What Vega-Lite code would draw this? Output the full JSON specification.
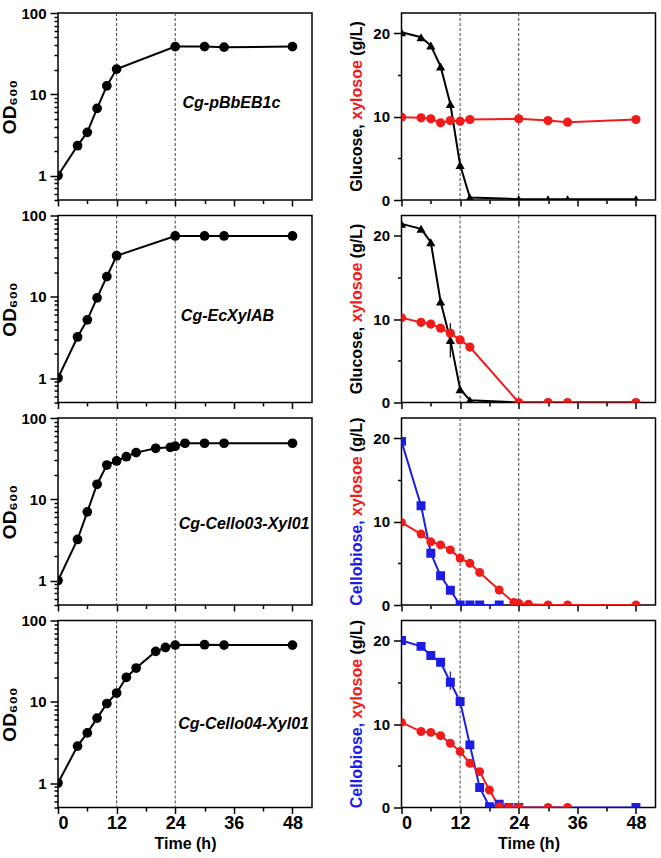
{
  "$schema": "https://vega.github.io/schema/vega-lite/v6.json",
  "padding": {"left": 0, "top": 5, "right": 5, "bottom": 5},
  "background": "white",
  "columns": 2,
  "spacing": {"row": 15.5, "column": 89.5},
  "bounds": "flush",
  "datasets": {
    "vlines": [{"t": 12}, {"t": 24}],
    "od": [
      {"strain": "pBbEB1c", "t": 0, "od": 1}, {"strain": "pBbEB1c", "t": 4, "od": 2.33}, {"strain": "pBbEB1c", "t": 6, "od": 3.4}, {"strain": "pBbEB1c", "t": 8, "od": 6.7}, {"strain": "pBbEB1c", "t": 10, "od": 12.7}, {"strain": "pBbEB1c", "t": 12, "od": 20.4}, {"strain": "pBbEB1c", "t": 24, "od": 38.6}, {"strain": "pBbEB1c", "t": 30, "od": 38.6}, {"strain": "pBbEB1c", "t": 34, "od": 38}, {"strain": "pBbEB1c", "t": 48, "od": 38.6},
      {"strain": "EcXylAB", "t": 0, "od": 1}, {"strain": "EcXylAB", "t": 4, "od": 3.2}, {"strain": "EcXylAB", "t": 6, "od": 5.2}, {"strain": "EcXylAB", "t": 8, "od": 9.7}, {"strain": "EcXylAB", "t": 10, "od": 17.7}, {"strain": "EcXylAB", "t": 12, "od": 32}, {"strain": "EcXylAB", "t": 24, "od": 56}, {"strain": "EcXylAB", "t": 30, "od": 56}, {"strain": "EcXylAB", "t": 34, "od": 56}, {"strain": "EcXylAB", "t": 48, "od": 56},
      {"strain": "Cello03", "t": 0, "od": 1}, {"strain": "Cello03", "t": 4, "od": 3.2}, {"strain": "Cello03", "t": 6, "od": 7.0}, {"strain": "Cello03", "t": 8, "od": 15.3}, {"strain": "Cello03", "t": 10, "od": 26.4}, {"strain": "Cello03", "t": 12, "od": 29.6}, {"strain": "Cello03", "t": 14, "od": 33.4}, {"strain": "Cello03", "t": 16, "od": 37.5}, {"strain": "Cello03", "t": 20, "od": 42.4}, {"strain": "Cello03", "t": 23, "od": 43.6}, {"strain": "Cello03", "t": 24, "od": 45}, {"strain": "Cello03", "t": 26, "od": 48.9}, {"strain": "Cello03", "t": 30, "od": 48.9}, {"strain": "Cello03", "t": 34, "od": 48.9}, {"strain": "Cello03", "t": 48, "od": 48.9},
      {"strain": "Cello04", "t": 0, "od": 1}, {"strain": "Cello04", "t": 4, "od": 2.85}, {"strain": "Cello04", "t": 6, "od": 4.14}, {"strain": "Cello04", "t": 8, "od": 6.3}, {"strain": "Cello04", "t": 10, "od": 9.5}, {"strain": "Cello04", "t": 12, "od": 12.8}, {"strain": "Cello04", "t": 14, "od": 20}, {"strain": "Cello04", "t": 16, "od": 26}, {"strain": "Cello04", "t": 20, "od": 41.7}, {"strain": "Cello04", "t": 22, "od": 46.6}, {"strain": "Cello04", "t": 24, "od": 49.8}, {"strain": "Cello04", "t": 30, "od": 50.4}, {"strain": "Cello04", "t": 34, "od": 49.8}, {"strain": "Cello04", "t": 48, "od": 49.8}
    ],
    "sugar": [
      {"p": 1, "s": "glucose", "t": 0, "c": 20.1}, {"p": 1, "s": "glucose", "t": 4, "c": 19.5}, {"p": 1, "s": "glucose", "t": 6, "c": 18.5}, {"p": 1, "s": "glucose", "t": 8, "c": 16.0}, {"p": 1, "s": "glucose", "t": 10, "c": 11.5}, {"p": 1, "s": "glucose", "t": 12, "c": 4.2}, {"p": 1, "s": "glucose", "t": 14, "c": 0.3}, {"p": 1, "s": "glucose", "t": 24, "c": 0.1}, {"p": 1, "s": "glucose", "t": 30, "c": 0.1}, {"p": 1, "s": "glucose", "t": 34, "c": 0.1}, {"p": 1, "s": "glucose", "t": 48, "c": 0.1},
      {"p": 1, "s": "xylose", "t": 0, "c": 9.92}, {"p": 1, "s": "xylose", "t": 4, "c": 9.84}, {"p": 1, "s": "xylose", "t": 6, "c": 9.72}, {"p": 1, "s": "xylose", "t": 8, "c": 9.24}, {"p": 1, "s": "xylose", "t": 10, "c": 9.52}, {"p": 1, "s": "xylose", "t": 12, "c": 9.44}, {"p": 1, "s": "xylose", "t": 14, "c": 9.64}, {"p": 1, "s": "xylose", "t": 24, "c": 9.72}, {"p": 1, "s": "xylose", "t": 30, "c": 9.52}, {"p": 1, "s": "xylose", "t": 34, "c": 9.32}, {"p": 1, "s": "xylose", "t": 48, "c": 9.64},
      {"p": 2, "s": "glucose", "t": 0, "c": 21.4}, {"p": 2, "s": "glucose", "t": 4, "c": 20.8}, {"p": 2, "s": "glucose", "t": 6, "c": 19.2}, {"p": 2, "s": "glucose", "t": 8, "c": 12.1}, {"p": 2, "s": "glucose", "t": 10, "c": 7.5}, {"p": 2, "s": "glucose", "t": 12, "c": 1.6}, {"p": 2, "s": "glucose", "t": 14, "c": 0.28}, {"p": 2, "s": "glucose", "t": 24, "c": 0}, {"p": 2, "s": "glucose", "t": 30, "c": 0}, {"p": 2, "s": "glucose", "t": 34, "c": 0}, {"p": 2, "s": "glucose", "t": 48, "c": 0},
      {"p": 2, "s": "xylose", "t": 0, "c": 10.14}, {"p": 2, "s": "xylose", "t": 4, "c": 9.6}, {"p": 2, "s": "xylose", "t": 6, "c": 9.4}, {"p": 2, "s": "xylose", "t": 8, "c": 8.9}, {"p": 2, "s": "xylose", "t": 10, "c": 8.3}, {"p": 2, "s": "xylose", "t": 12, "c": 7.5}, {"p": 2, "s": "xylose", "t": 14, "c": 6.64}, {"p": 2, "s": "xylose", "t": 24, "c": 0}, {"p": 2, "s": "xylose", "t": 30, "c": 0}, {"p": 2, "s": "xylose", "t": 34, "c": 0}, {"p": 2, "s": "xylose", "t": 48, "c": 0},
      {"p": 3, "s": "cellobiose", "t": 0, "c": 19.6}, {"p": 3, "s": "cellobiose", "t": 4, "c": 11.9}, {"p": 3, "s": "cellobiose", "t": 6, "c": 6.2}, {"p": 3, "s": "cellobiose", "t": 8, "c": 3.5}, {"p": 3, "s": "cellobiose", "t": 10, "c": 1.77}, {"p": 3, "s": "cellobiose", "t": 12, "c": 0}, {"p": 3, "s": "cellobiose", "t": 14, "c": 0}, {"p": 3, "s": "cellobiose", "t": 16, "c": 0}, {"p": 3, "s": "cellobiose", "t": 20, "c": 0},
      {"p": 3, "s": "xylose", "t": 0, "c": 9.9}, {"p": 3, "s": "xylose", "t": 4, "c": 8.5}, {"p": 3, "s": "xylose", "t": 6, "c": 7.57}, {"p": 3, "s": "xylose", "t": 8, "c": 7.2}, {"p": 3, "s": "xylose", "t": 10, "c": 6.6}, {"p": 3, "s": "xylose", "t": 12, "c": 5.6}, {"p": 3, "s": "xylose", "t": 14, "c": 5.0}, {"p": 3, "s": "xylose", "t": 16, "c": 3.9}, {"p": 3, "s": "xylose", "t": 20, "c": 1.8}, {"p": 3, "s": "xylose", "t": 23, "c": 0.3}, {"p": 3, "s": "xylose", "t": 24, "c": 0.2}, {"p": 3, "s": "xylose", "t": 26, "c": 0.1}, {"p": 3, "s": "xylose", "t": 30, "c": 0}, {"p": 3, "s": "xylose", "t": 34, "c": 0}, {"p": 3, "s": "xylose", "t": 48, "c": 0},
      {"p": 4, "s": "cellobiose", "t": 0, "c": 20.0}, {"p": 4, "s": "cellobiose", "t": 4, "c": 19.3}, {"p": 4, "s": "cellobiose", "t": 6, "c": 18.2}, {"p": 4, "s": "cellobiose", "t": 8, "c": 17.4}, {"p": 4, "s": "cellobiose", "t": 10, "c": 15.0}, {"p": 4, "s": "cellobiose", "t": 12, "c": 12.7}, {"p": 4, "s": "cellobiose", "t": 14, "c": 7.5}, {"p": 4, "s": "cellobiose", "t": 16, "c": 2.4}, {"p": 4, "s": "cellobiose", "t": 18, "c": 0.1}, {"p": 4, "s": "cellobiose", "t": 20, "c": 0.4}, {"p": 4, "s": "cellobiose", "t": 22, "c": 0}, {"p": 4, "s": "cellobiose", "t": 24, "c": 0}, {"p": 4, "s": "cellobiose", "t": 48, "c": 0},
      {"p": 4, "s": "xylose", "t": 0, "c": 10.2}, {"p": 4, "s": "xylose", "t": 4, "c": 9.1}, {"p": 4, "s": "xylose", "t": 6, "c": 9.0}, {"p": 4, "s": "xylose", "t": 8, "c": 8.6}, {"p": 4, "s": "xylose", "t": 10, "c": 7.7}, {"p": 4, "s": "xylose", "t": 12, "c": 6.7}, {"p": 4, "s": "xylose", "t": 14, "c": 5.3}, {"p": 4, "s": "xylose", "t": 16, "c": 4.3}, {"p": 4, "s": "xylose", "t": 18, "c": 2.1}, {"p": 4, "s": "xylose", "t": 20, "c": 0.1}, {"p": 4, "s": "xylose", "t": 22, "c": 0}, {"p": 4, "s": "xylose", "t": 24, "c": 0}, {"p": 4, "s": "xylose", "t": 30, "c": 0}, {"p": 4, "s": "xylose", "t": 34, "c": 0}
    ],
    "err": [
      {"p": 2, "s": "glucose", "t": 10, "lo": 5.4, "hi": 9.5},
      {"p": 4, "s": "cellobiose", "t": 10, "lo": 14.1, "hi": 16.3}
    ]
  },
  "concat": [
    {
      "width": 254, "height": 187,
      "layer": [
        {"data": {"name": "vlines"}, "mark": {"type": "rule", "color": "#444", "strokeDash": [3, 2], "strokeWidth": 1},
         "encoding": {"x": {"field": "t", "type": "quantitative", "scale": {"domain": [0, 52], "nice": false}, "axis": {"orient": "bottom", "values": [6, 18, 30, 42], "labels": false, "tickSize": 3.5, "title": null}}}},
        {"data": {"name": "od"}, "transform": [{"filter": "datum.strain === 'pBbEB1c'"}],
         "mark": {"type": "line", "color": "black", "strokeWidth": 2, "clip": true},
         "encoding": {"x": {"field": "t", "type": "quantitative", "scale": {"domain": [0, 52], "nice": false}, "axis": {"orient": "bottom", "values": [0, 12, 24, 36, 48], "labels": false, "tickSize": 6, "title": null}},
                      "y": {"field": "od", "type": "quantitative", "scale": {"type": "log", "domain": [0.5, 100], "nice": false}, "axis": {"orient": "left", "values": [1, 10, 100], "format": "d", "tickSize": 8, "labelPadding": 4, "title": "OD₆₀₀", "titlePadding": 1}}}},
        {"data": {"name": "od"}, "transform": [{"filter": "datum.strain === 'pBbEB1c'"}],
         "mark": {"type": "point", "shape": "circle", "filled": true, "opacity": 1, "size": 95, "color": "black", "clip": true},
         "encoding": {"x": {"field": "t", "type": "quantitative", "scale": {"domain": [0, 52], "nice": false}, "axis": null},
                      "y": {"field": "od", "type": "quantitative", "scale": {"type": "log", "domain": [0.5, 100], "nice": false}, "axis": {"orient": "left", "values": [0.5, 0.6, 0.7, 0.8, 0.9, 2, 3, 4, 5, 6, 7, 8, 9, 20, 30, 40, 50, 60, 70, 80, 90], "labels": false, "tickSize": 4, "title": null}}}},
        {"data": {"values": [{}]}, "mark": {"type": "text", "text": "Cg-pBbEB1c", "fontSize": 16, "fontWeight": "bold", "fontStyle": "italic", "align": "center", "baseline": "middle", "color": "black"},
         "encoding": {"x": {"datum": 35.5, "type": "quantitative", "axis": null}, "y": {"datum": 7.9, "type": "quantitative", "axis": null}}}
      ],
      "resolve": {"axis": {"x": "independent", "y": "independent"}}
    },
    {
      "width": 254, "height": 187,
      "layer": [
        {"data": {"name": "vlines"}, "mark": {"type": "rule", "color": "#444", "strokeDash": [3, 2], "strokeWidth": 1},
         "encoding": {"x": {"field": "t", "type": "quantitative", "scale": {"domain": [0, 52], "nice": false}, "axis": {"orient": "bottom", "values": [6, 18, 30, 42], "labels": false, "tickSize": 3.5, "title": null}}}},
        {"data": {"name": "sugar"}, "transform": [{"filter": "datum.p === 1"}],
         "mark": {"type": "line", "strokeWidth": 2, "clip": true},
         "encoding": {"x": {"field": "t", "type": "quantitative", "scale": {"domain": [0, 52], "nice": false}, "axis": {"orient": "bottom", "values": [0, 12, 24, 36, 48], "labels": false, "tickSize": 6, "title": null}},
                      "y": {"field": "c", "type": "quantitative", "scale": {"domain": [0, 22.4], "nice": false}, "axis": {"orient": "left", "values": [0, 10, 20], "tickSize": 8, "labelPadding": 4, "title": null}},
                      "color": {"field": "s", "type": "nominal", "scale": {"domain": ["glucose", "xylose", "cellobiose"], "range": ["#000000", "#f01c1c", "#1c1ce6"]}, "legend": null}}},
        {"data": {"name": "sugar"}, "transform": [{"filter": "datum.p === 1"}],
         "mark": {"type": "point", "filled": true, "opacity": 1, "size": 85, "clip": true},
         "encoding": {"x": {"field": "t", "type": "quantitative", "scale": {"domain": [0, 52], "nice": false}, "axis": null},
                      "y": {"field": "c", "type": "quantitative", "scale": {"domain": [0, 22.4], "nice": false}, "axis": {"orient": "left", "values": [5, 15], "labels": false, "tickSize": 4, "title": null}},
                      "color": {"field": "s", "type": "nominal", "scale": {"domain": ["glucose", "xylose", "cellobiose"], "range": ["#000000", "#f01c1c", "#1c1ce6"]}, "legend": null},
                      "shape": {"field": "s", "type": "nominal", "scale": {"domain": ["glucose", "xylose", "cellobiose"], "range": ["triangle-up", "circle", "square"]}, "legend": null}}},
        {"data": {"values": [{}]}, "mark": {"type": "text", "text": "Glucose,", "angle": 270, "fontSize": 16, "fontWeight": "bold", "align": "right", "baseline": "middle", "color": "black"},
         "encoding": {"x": {"datum": -9.2, "type": "quantitative", "axis": null}, "y": {"datum": 9.08, "type": "quantitative", "axis": null}}},
        {"data": {"values": [{}]}, "mark": {"type": "text", "text": "xylosoe", "angle": 270, "fontSize": 16, "fontWeight": "bold", "align": "center", "baseline": "middle", "color": "#f01c1c"},
         "encoding": {"x": {"datum": -9.2, "type": "quantitative", "axis": null}, "y": {"datum": 13.18, "type": "quantitative", "axis": null}}},
        {"data": {"values": [{}]}, "mark": {"type": "text", "text": "(g/L)", "angle": 270, "fontSize": 16, "fontWeight": "bold", "align": "left", "baseline": "middle", "color": "black"},
         "encoding": {"x": {"datum": -9.2, "type": "quantitative", "axis": null}, "y": {"datum": 17.27, "type": "quantitative", "axis": null}}}
      ],
      "resolve": {"axis": {"x": "independent", "y": "independent"}}
    },
    {
      "width": 254, "height": 187,
      "layer": [
        {"data": {"name": "vlines"}, "mark": {"type": "rule", "color": "#444", "strokeDash": [3, 2], "strokeWidth": 1},
         "encoding": {"x": {"field": "t", "type": "quantitative", "scale": {"domain": [0, 52], "nice": false}, "axis": {"orient": "bottom", "values": [6, 18, 30, 42], "labels": false, "tickSize": 3.5, "title": null}}}},
        {"data": {"name": "od"}, "transform": [{"filter": "datum.strain === 'EcXylAB'"}],
         "mark": {"type": "line", "color": "black", "strokeWidth": 2, "clip": true},
         "encoding": {"x": {"field": "t", "type": "quantitative", "scale": {"domain": [0, 52], "nice": false}, "axis": {"orient": "bottom", "values": [0, 12, 24, 36, 48], "labels": false, "tickSize": 6, "title": null}},
                      "y": {"field": "od", "type": "quantitative", "scale": {"type": "log", "domain": [0.5, 100], "nice": false}, "axis": {"orient": "left", "values": [1, 10, 100], "format": "d", "tickSize": 8, "labelPadding": 4, "title": "OD₆₀₀", "titlePadding": 1}}}},
        {"data": {"name": "od"}, "transform": [{"filter": "datum.strain === 'EcXylAB'"}],
         "mark": {"type": "point", "shape": "circle", "filled": true, "opacity": 1, "size": 95, "color": "black", "clip": true},
         "encoding": {"x": {"field": "t", "type": "quantitative", "scale": {"domain": [0, 52], "nice": false}, "axis": null},
                      "y": {"field": "od", "type": "quantitative", "scale": {"type": "log", "domain": [0.5, 100], "nice": false}, "axis": {"orient": "left", "values": [0.5, 0.6, 0.7, 0.8, 0.9, 2, 3, 4, 5, 6, 7, 8, 9, 20, 30, 40, 50, 60, 70, 80, 90], "labels": false, "tickSize": 4, "title": null}}}},
        {"data": {"values": [{}]}, "mark": {"type": "text", "text": "Cg-EcXylAB", "fontSize": 16, "fontWeight": "bold", "fontStyle": "italic", "align": "center", "baseline": "middle", "color": "black"},
         "encoding": {"x": {"datum": 34.7, "type": "quantitative", "axis": null}, "y": {"datum": 5.8, "type": "quantitative", "axis": null}}}
      ],
      "resolve": {"axis": {"x": "independent", "y": "independent"}}
    },
    {
      "width": 254, "height": 187,
      "layer": [
        {"data": {"name": "vlines"}, "mark": {"type": "rule", "color": "#444", "strokeDash": [3, 2], "strokeWidth": 1},
         "encoding": {"x": {"field": "t", "type": "quantitative", "scale": {"domain": [0, 52], "nice": false}, "axis": {"orient": "bottom", "values": [6, 18, 30, 42], "labels": false, "tickSize": 3.5, "title": null}}}},
        {"data": {"name": "sugar"}, "transform": [{"filter": "datum.p === 2"}],
         "mark": {"type": "line", "strokeWidth": 2, "clip": true},
         "encoding": {"x": {"field": "t", "type": "quantitative", "scale": {"domain": [0, 52], "nice": false}, "axis": {"orient": "bottom", "values": [0, 12, 24, 36, 48], "labels": false, "tickSize": 6, "title": null}},
                      "y": {"field": "c", "type": "quantitative", "scale": {"domain": [0, 22.4], "nice": false}, "axis": {"orient": "left", "values": [0, 10, 20], "tickSize": 8, "labelPadding": 4, "title": null}},
                      "color": {"field": "s", "type": "nominal", "scale": {"domain": ["glucose", "xylose", "cellobiose"], "range": ["#000000", "#f01c1c", "#1c1ce6"]}, "legend": null}}},
        {"data": {"name": "err"}, "transform": [{"filter": "datum.p === 2"}],
         "mark": {"type": "rule", "strokeWidth": 1.2},
         "encoding": {"x": {"field": "t", "type": "quantitative", "scale": {"domain": [0, 52], "nice": false}, "axis": null},
                      "y": {"field": "lo", "type": "quantitative", "scale": {"domain": [0, 22.4], "nice": false}, "axis": null},
                      "y2": {"field": "hi"},
                      "color": {"field": "s", "type": "nominal", "scale": {"domain": ["glucose", "xylose", "cellobiose"], "range": ["#000000", "#f01c1c", "#1c1ce6"]}, "legend": null}}},
        {"data": {"name": "sugar"}, "transform": [{"filter": "datum.p === 2"}],
         "mark": {"type": "point", "filled": true, "opacity": 1, "size": 85, "clip": true},
         "encoding": {"x": {"field": "t", "type": "quantitative", "scale": {"domain": [0, 52], "nice": false}, "axis": null},
                      "y": {"field": "c", "type": "quantitative", "scale": {"domain": [0, 22.4], "nice": false}, "axis": {"orient": "left", "values": [5, 15], "labels": false, "tickSize": 4, "title": null}},
                      "color": {"field": "s", "type": "nominal", "scale": {"domain": ["glucose", "xylose", "cellobiose"], "range": ["#000000", "#f01c1c", "#1c1ce6"]}, "legend": null},
                      "shape": {"field": "s", "type": "nominal", "scale": {"domain": ["glucose", "xylose", "cellobiose"], "range": ["triangle-up", "circle", "square"]}, "legend": null}}},
        {"data": {"values": [{}]}, "mark": {"type": "text", "text": "Glucose,", "angle": 270, "fontSize": 16, "fontWeight": "bold", "align": "right", "baseline": "middle", "color": "black"},
         "encoding": {"x": {"datum": -9.2, "type": "quantitative", "axis": null}, "y": {"datum": 9.08, "type": "quantitative", "axis": null}}},
        {"data": {"values": [{}]}, "mark": {"type": "text", "text": "xylosoe", "angle": 270, "fontSize": 16, "fontWeight": "bold", "align": "center", "baseline": "middle", "color": "#f01c1c"},
         "encoding": {"x": {"datum": -9.2, "type": "quantitative", "axis": null}, "y": {"datum": 13.18, "type": "quantitative", "axis": null}}},
        {"data": {"values": [{}]}, "mark": {"type": "text", "text": "(g/L)", "angle": 270, "fontSize": 16, "fontWeight": "bold", "align": "left", "baseline": "middle", "color": "black"},
         "encoding": {"x": {"datum": -9.2, "type": "quantitative", "axis": null}, "y": {"datum": 17.27, "type": "quantitative", "axis": null}}}
      ],
      "resolve": {"axis": {"x": "independent", "y": "independent"}}
    },
    {
      "width": 254, "height": 187,
      "layer": [
        {"data": {"name": "vlines"}, "mark": {"type": "rule", "color": "#444", "strokeDash": [3, 2], "strokeWidth": 1},
         "encoding": {"x": {"field": "t", "type": "quantitative", "scale": {"domain": [0, 52], "nice": false}, "axis": {"orient": "bottom", "values": [6, 18, 30, 42], "labels": false, "tickSize": 3.5, "title": null}}}},
        {"data": {"name": "od"}, "transform": [{"filter": "datum.strain === 'Cello03'"}],
         "mark": {"type": "line", "color": "black", "strokeWidth": 2, "clip": true},
         "encoding": {"x": {"field": "t", "type": "quantitative", "scale": {"domain": [0, 52], "nice": false}, "axis": {"orient": "bottom", "values": [0, 12, 24, 36, 48], "labels": false, "tickSize": 6, "title": null}},
                      "y": {"field": "od", "type": "quantitative", "scale": {"type": "log", "domain": [0.5, 100], "nice": false}, "axis": {"orient": "left", "values": [1, 10, 100], "format": "d", "tickSize": 8, "labelPadding": 4, "title": "OD₆₀₀", "titlePadding": 1}}}},
        {"data": {"name": "od"}, "transform": [{"filter": "datum.strain === 'Cello03'"}],
         "mark": {"type": "point", "shape": "circle", "filled": true, "opacity": 1, "size": 95, "color": "black", "clip": true},
         "encoding": {"x": {"field": "t", "type": "quantitative", "scale": {"domain": [0, 52], "nice": false}, "axis": null},
                      "y": {"field": "od", "type": "quantitative", "scale": {"type": "log", "domain": [0.5, 100], "nice": false}, "axis": {"orient": "left", "values": [0.5, 0.6, 0.7, 0.8, 0.9, 2, 3, 4, 5, 6, 7, 8, 9, 20, 30, 40, 50, 60, 70, 80, 90], "labels": false, "tickSize": 4, "title": null}}}},
        {"data": {"values": [{}]}, "mark": {"type": "text", "text": "Cg-Cello03-Xyl01", "fontSize": 16, "fontWeight": "bold", "fontStyle": "italic", "align": "center", "baseline": "middle", "color": "black"},
         "encoding": {"x": {"datum": 38.1, "type": "quantitative", "axis": null}, "y": {"datum": 5.0, "type": "quantitative", "axis": null}}}
      ],
      "resolve": {"axis": {"x": "independent", "y": "independent"}}
    },
    {
      "width": 254, "height": 187,
      "layer": [
        {"data": {"name": "vlines"}, "mark": {"type": "rule", "color": "#444", "strokeDash": [3, 2], "strokeWidth": 1},
         "encoding": {"x": {"field": "t", "type": "quantitative", "scale": {"domain": [0, 52], "nice": false}, "axis": {"orient": "bottom", "values": [6, 18, 30, 42], "labels": false, "tickSize": 3.5, "title": null}}}},
        {"data": {"name": "sugar"}, "transform": [{"filter": "datum.p === 3"}],
         "mark": {"type": "line", "strokeWidth": 2, "clip": true},
         "encoding": {"x": {"field": "t", "type": "quantitative", "scale": {"domain": [0, 52], "nice": false}, "axis": {"orient": "bottom", "values": [0, 12, 24, 36, 48], "labels": false, "tickSize": 6, "title": null}},
                      "y": {"field": "c", "type": "quantitative", "scale": {"domain": [0, 22.4], "nice": false}, "axis": {"orient": "left", "values": [0, 10, 20], "tickSize": 8, "labelPadding": 4, "title": null}},
                      "color": {"field": "s", "type": "nominal", "scale": {"domain": ["glucose", "xylose", "cellobiose"], "range": ["#000000", "#f01c1c", "#1c1ce6"]}, "legend": null}}},
        {"data": {"name": "sugar"}, "transform": [{"filter": "datum.p === 3"}],
         "mark": {"type": "point", "filled": true, "opacity": 1, "size": 80, "clip": true},
         "encoding": {"x": {"field": "t", "type": "quantitative", "scale": {"domain": [0, 52], "nice": false}, "axis": null},
                      "y": {"field": "c", "type": "quantitative", "scale": {"domain": [0, 22.4], "nice": false}, "axis": {"orient": "left", "values": [5, 15], "labels": false, "tickSize": 4, "title": null}},
                      "color": {"field": "s", "type": "nominal", "scale": {"domain": ["glucose", "xylose", "cellobiose"], "range": ["#000000", "#f01c1c", "#1c1ce6"]}, "legend": null},
                      "shape": {"field": "s", "type": "nominal", "scale": {"domain": ["glucose", "xylose", "cellobiose"], "range": ["triangle-up", "circle", "square"]}, "legend": null}}},
        {"data": {"values": [{}]}, "mark": {"type": "text", "text": "Cellobiose,", "angle": 270, "fontSize": 16, "fontWeight": "bold", "align": "right", "baseline": "middle", "color": "#1c1ce6"},
         "encoding": {"x": {"datum": -9.2, "type": "quantitative", "axis": null}, "y": {"datum": 10.14, "type": "quantitative", "axis": null}}},
        {"data": {"values": [{}]}, "mark": {"type": "text", "text": "xylosoe", "angle": 270, "fontSize": 16, "fontWeight": "bold", "align": "center", "baseline": "middle", "color": "#f01c1c"},
         "encoding": {"x": {"datum": -9.2, "type": "quantitative", "axis": null}, "y": {"datum": 14.24, "type": "quantitative", "axis": null}}},
        {"data": {"values": [{}]}, "mark": {"type": "text", "text": "(g/L)", "angle": 270, "fontSize": 16, "fontWeight": "bold", "align": "left", "baseline": "middle", "color": "black"},
         "encoding": {"x": {"datum": -9.2, "type": "quantitative", "axis": null}, "y": {"datum": 18.33, "type": "quantitative", "axis": null}}}
      ],
      "resolve": {"axis": {"x": "independent", "y": "independent"}}
    },
    {
      "width": 254, "height": 187,
      "layer": [
        {"data": {"name": "vlines"}, "mark": {"type": "rule", "color": "#444", "strokeDash": [3, 2], "strokeWidth": 1},
         "encoding": {"x": {"field": "t", "type": "quantitative", "scale": {"domain": [0, 52], "nice": false}, "axis": {"orient": "bottom", "values": [6, 18, 30, 42], "labels": false, "tickSize": 3.5, "title": null}}}},
        {"data": {"name": "od"}, "transform": [{"filter": "datum.strain === 'Cello04'"}],
         "mark": {"type": "line", "color": "black", "strokeWidth": 2, "clip": true},
         "encoding": {"x": {"field": "t", "type": "quantitative", "scale": {"domain": [0, 52], "nice": false}, "axis": {"orient": "bottom", "values": [0, 12, 24, 36, 48], "format": "d", "tickSize": 6, "labelPadding": 1, "title": "Time (h)", "titlePadding": 3}},
                      "y": {"field": "od", "type": "quantitative", "scale": {"type": "log", "domain": [0.5, 100], "nice": false}, "axis": {"orient": "left", "values": [1, 10, 100], "format": "d", "tickSize": 8, "labelPadding": 4, "title": "OD₆₀₀", "titlePadding": 1}}}},
        {"data": {"name": "od"}, "transform": [{"filter": "datum.strain === 'Cello04'"}],
         "mark": {"type": "point", "shape": "circle", "filled": true, "opacity": 1, "size": 95, "color": "black", "clip": true},
         "encoding": {"x": {"field": "t", "type": "quantitative", "scale": {"domain": [0, 52], "nice": false}, "axis": null},
                      "y": {"field": "od", "type": "quantitative", "scale": {"type": "log", "domain": [0.5, 100], "nice": false}, "axis": {"orient": "left", "values": [0.5, 0.6, 0.7, 0.8, 0.9, 2, 3, 4, 5, 6, 7, 8, 9, 20, 30, 40, 50, 60, 70, 80, 90], "labels": false, "tickSize": 4, "title": null}}}},
        {"data": {"values": [{}]}, "mark": {"type": "text", "text": "Cg-Cello04-Xyl01", "fontSize": 16, "fontWeight": "bold", "fontStyle": "italic", "align": "center", "baseline": "middle", "color": "black"},
         "encoding": {"x": {"datum": 38, "type": "quantitative", "axis": null}, "y": {"datum": 5.35, "type": "quantitative", "axis": null}}}
      ],
      "resolve": {"axis": {"x": "independent", "y": "independent"}}
    },
    {
      "width": 254, "height": 187,
      "layer": [
        {"data": {"name": "vlines"}, "mark": {"type": "rule", "color": "#444", "strokeDash": [3, 2], "strokeWidth": 1},
         "encoding": {"x": {"field": "t", "type": "quantitative", "scale": {"domain": [0, 52], "nice": false}, "axis": {"orient": "bottom", "values": [6, 18, 30, 42], "labels": false, "tickSize": 3.5, "title": null}}}},
        {"data": {"name": "sugar"}, "transform": [{"filter": "datum.p === 4"}],
         "mark": {"type": "line", "strokeWidth": 2, "clip": true},
         "encoding": {"x": {"field": "t", "type": "quantitative", "scale": {"domain": [0, 52], "nice": false}, "axis": {"orient": "bottom", "values": [0, 12, 24, 36, 48], "format": "d", "tickSize": 6, "labelPadding": 1, "title": "Time (h)", "titlePadding": 3}},
                      "y": {"field": "c", "type": "quantitative", "scale": {"domain": [0, 22.4], "nice": false}, "axis": {"orient": "left", "values": [0, 10, 20], "tickSize": 8, "labelPadding": 4, "title": null}},
                      "color": {"field": "s", "type": "nominal", "scale": {"domain": ["glucose", "xylose", "cellobiose"], "range": ["#000000", "#f01c1c", "#1c1ce6"]}, "legend": null}}},
        {"data": {"name": "err"}, "transform": [{"filter": "datum.p === 4"}],
         "mark": {"type": "rule", "strokeWidth": 1.2},
         "encoding": {"x": {"field": "t", "type": "quantitative", "scale": {"domain": [0, 52], "nice": false}, "axis": null},
                      "y": {"field": "lo", "type": "quantitative", "scale": {"domain": [0, 22.4], "nice": false}, "axis": null},
                      "y2": {"field": "hi"},
                      "color": {"field": "s", "type": "nominal", "scale": {"domain": ["glucose", "xylose", "cellobiose"], "range": ["#000000", "#f01c1c", "#1c1ce6"]}, "legend": null}}},
        {"data": {"name": "sugar"}, "transform": [{"filter": "datum.p === 4"}],
         "mark": {"type": "point", "filled": true, "opacity": 1, "size": 80, "clip": true},
         "encoding": {"x": {"field": "t", "type": "quantitative", "scale": {"domain": [0, 52], "nice": false}, "axis": null},
                      "y": {"field": "c", "type": "quantitative", "scale": {"domain": [0, 22.4], "nice": false}, "axis": {"orient": "left", "values": [5, 15], "labels": false, "tickSize": 4, "title": null}},
                      "color": {"field": "s", "type": "nominal", "scale": {"domain": ["glucose", "xylose", "cellobiose"], "range": ["#000000", "#f01c1c", "#1c1ce6"]}, "legend": null},
                      "shape": {"field": "s", "type": "nominal", "scale": {"domain": ["glucose", "xylose", "cellobiose"], "range": ["triangle-up", "circle", "square"]}, "legend": null}}},
        {"data": {"values": [{}]}, "mark": {"type": "text", "text": "Cellobiose,", "angle": 270, "fontSize": 16, "fontWeight": "bold", "align": "right", "baseline": "middle", "color": "#1c1ce6"},
         "encoding": {"x": {"datum": -9.2, "type": "quantitative", "axis": null}, "y": {"datum": 10.14, "type": "quantitative", "axis": null}}},
        {"data": {"values": [{}]}, "mark": {"type": "text", "text": "xylosoe", "angle": 270, "fontSize": 16, "fontWeight": "bold", "align": "center", "baseline": "middle", "color": "#f01c1c"},
         "encoding": {"x": {"datum": -9.2, "type": "quantitative", "axis": null}, "y": {"datum": 14.24, "type": "quantitative", "axis": null}}},
        {"data": {"values": [{}]}, "mark": {"type": "text", "text": "(g/L)", "angle": 270, "fontSize": 16, "fontWeight": "bold", "align": "left", "baseline": "middle", "color": "black"},
         "encoding": {"x": {"datum": -9.2, "type": "quantitative", "axis": null}, "y": {"datum": 18.33, "type": "quantitative", "axis": null}}}
      ],
      "resolve": {"axis": {"x": "independent", "y": "independent"}}
    }
  ],
  "config": {
    "font": "Liberation Sans",
    "view": {"stroke": "black", "strokeWidth": 1.5},
    "text": {"font": "Liberation Sans"},
    "axis": {"grid": false, "domain": false, "tickColor": "black", "tickWidth": 1.5, "labelColor": "black", "labelFont": "Liberation Sans", "labelFontWeight": "bold", "titleFont": "Liberation Sans", "titleFontWeight": "bold", "titleColor": "black"},
    "axisX": {"labelFontSize": 18, "titleFontSize": 16},
    "axisY": {"labelFontSize": 15, "titleFontSize": 19}
  }
}
